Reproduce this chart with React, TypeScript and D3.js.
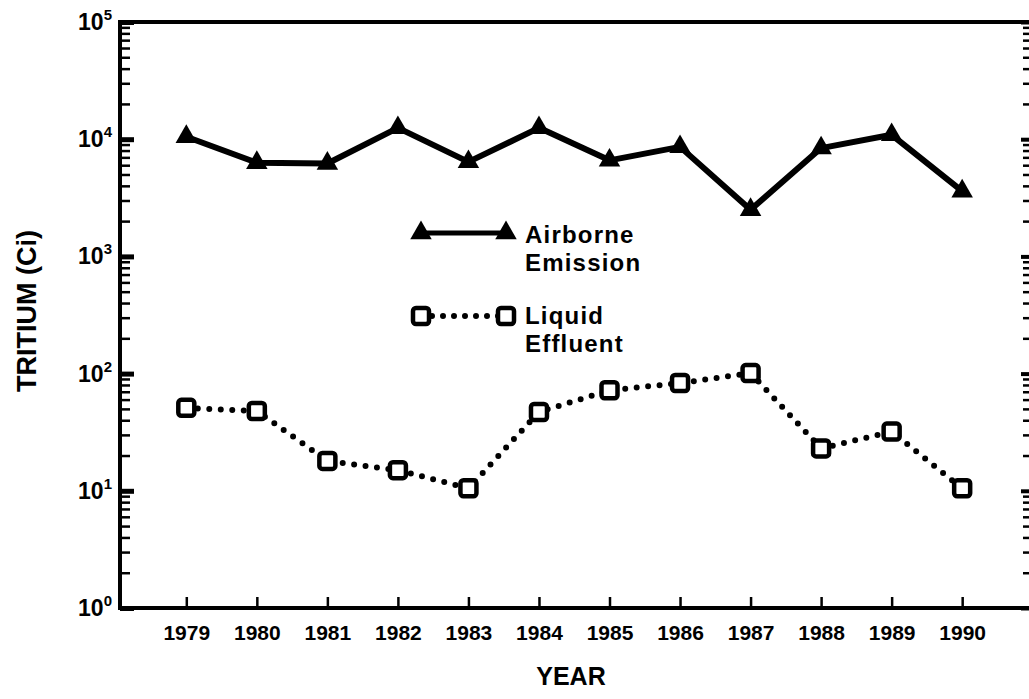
import React from "react";
import * as d3 from "d3";

const W = 1029;
const H = 699;

const years = [1979, 1980, 1981, 1982, 1983, 1984, 1985, 1986, 1987, 1988, 1989, 1990];
const airborne = [10500, 6300, 6200, 12500, 6400, 12500, 6600, 8600, 2500, 8400, 10900, 3600];
const liquid = [51, 48, 18, 15, 10.5, 47, 72, 83, 101, 23, 32, 10.5];
const decades = [1, 10, 100, 1000, 10000, 100000];
const decadeExp = ["0", "1", "2", "3", "4", "5"];
const legendLabels = ["Airborne", "Emission", "Liquid", "Effluent"];

const FONT = "'Liberation Sans', Arial, Helvetica, sans-serif";

const App = () => {
  const svgRef = React.useRef<SVGSVGElement>(null);

  React.useEffect(() => {
    const svg = d3.select(svgRef.current);
    svg.selectAll("*").remove();

    const left = 120, right = 1032, top = 22, bottom = 608;
    const x = d3.scaleLinear().domain([1978.06, 1990.99]).range([left, right]);
    const y = d3.scaleLog().domain([1, 100000]).range([bottom, top]);

    const minors: number[] = [];
    decades.slice(0, -1).forEach((d) => {
      for (let k = 2; k <= 9; k++) minors.push(d * k);
    });

    // frame
    svg
      .append("rect")
      .attr("x", left)
      .attr("y", top)
      .attr("width", right - left)
      .attr("height", bottom - top)
      .attr("fill", "none")
      .attr("stroke", "#000")
      .attr("stroke-width", 4);

    // x axis ticks + labels
    const gx = svg
      .append("g")
      .attr("transform", `translate(0,${bottom})`)
      .call(
        d3
          .axisBottom(x)
          .tickValues(years)
          .tickFormat((d: any) => String(d))
          .tickSizeInner(-11)
          .tickSizeOuter(0)
          .tickPadding(17)
      );
    gx.select(".domain").remove();
    gx.selectAll("line").attr("stroke-width", 2.5);
    gx.selectAll("text")
      .attr("font-family", FONT)
      .attr("font-weight", "bold")
      .attr("font-size", 21)
      .attr("fill", "#000");

    // left axis: major + minor ticks pointing inward
    const gyMaj = svg
      .append("g")
      .attr("transform", `translate(${left},0)`)
      .call(d3.axisLeft(y).tickValues(decades).tickFormat(() => "").tickSizeInner(-14).tickSizeOuter(0));
    gyMaj.select(".domain").remove();
    gyMaj.selectAll("line").attr("stroke-width", 5);

    const gyMin = svg
      .append("g")
      .attr("transform", `translate(${left},0)`)
      .call(d3.axisLeft(y).tickValues(minors).tickFormat(() => "").tickSizeInner(-10).tickSizeOuter(0));
    gyMin.select(".domain").remove();
    gyMin.selectAll("line").attr("stroke-width", 2.5);

    // right axis ticks
    const grMaj = svg
      .append("g")
      .attr("transform", `translate(${right},0)`)
      .call(d3.axisRight(y).tickValues(decades).tickFormat(() => "").tickSizeInner(-11).tickSizeOuter(0));
    grMaj.select(".domain").remove();
    grMaj.selectAll("line").attr("stroke-width", 4);

    const grMin = svg
      .append("g")
      .attr("transform", `translate(${right},0)`)
      .call(d3.axisRight(y).tickValues(minors).tickFormat(() => "").tickSizeInner(-9).tickSizeOuter(0));
    grMin.select(".domain").remove();
    grMin.selectAll("line").attr("stroke-width", 2.5);

    // y labels 10^n
    const lab = svg
      .append("g")
      .attr("font-family", FONT)
      .attr("font-weight", "bold")
      .attr("text-anchor", "end")
      .selectAll("text")
      .data(decades)
      .join("text")
      .attr("x", 112)
      .attr("y", (d: number) => y(d) + 8);
    lab.append("tspan").attr("font-size", 23).text("10");
    lab
      .append("tspan")
      .attr("font-size", 15)
      .attr("dy", -10)
      .text((_: any, i: number) => decadeExp[i]);

    // axis titles
    svg
      .append("text")
      .attr("transform", `translate(36,311) rotate(-90)`)
      .attr("text-anchor", "middle")
      .attr("font-family", FONT)
      .attr("font-weight", "bold")
      .attr("font-size", 27)
      .text("TRITIUM (Ci)");

    svg
      .append("text")
      .attr("x", 571)
      .attr("y", 685)
      .attr("text-anchor", "middle")
      .attr("font-family", FONT)
      .attr("font-weight", "bold")
      .attr("font-size", 25)
      .text("YEAR");

    const tri = d3.symbol(d3.symbolTriangle, 200);

    const line = d3
      .line<number>()
      .x((_, i) => x(years[i]))
      .y((d) => y(d));

    // airborne emission
    svg
      .append("path")
      .datum(airborne)
      .attr("d", line)
      .attr("fill", "none")
      .attr("stroke", "#000")
      .attr("stroke-width", 6)
      .attr("stroke-linejoin", "round");
    svg
      .append("g")
      .selectAll("path")
      .data(airborne)
      .join("path")
      .attr("d", tri)
      .attr("transform", (d: number, i: number) => `translate(${x(years[i])},${y(d)})`)
      .attr("fill", "#000");

    // liquid effluent
    svg
      .append("path")
      .datum(liquid)
      .attr("d", line)
      .attr("fill", "none")
      .attr("stroke", "#000")
      .attr("stroke-width", 6)
      .attr("stroke-linecap", "round")
      .attr("stroke-dasharray", "0 11.5");
    svg
      .append("g")
      .selectAll("rect")
      .data(liquid)
      .join("rect")
      .attr("x", (_: any, i: number) => x(years[i]) - 8)
      .attr("y", (d: number) => y(d) - 8)
      .attr("width", 16)
      .attr("height", 16)
      .attr("rx", 3)
      .attr("fill", "#fff")
      .attr("stroke", "#000")
      .attr("stroke-width", 4.5);

    // legend
    const lg = svg.append("g");
    lg.append("line")
      .attr("x1", 421).attr("x2", 506).attr("y1", 233).attr("y2", 233)
      .attr("stroke", "#000").attr("stroke-width", 5);
    [421, 506].forEach((cx) =>
      lg.append("path").attr("d", tri).attr("transform", `translate(${cx},233)`).attr("fill", "#000")
    );
    lg.append("line")
      .attr("x1", 421).attr("x2", 506).attr("y1", 316).attr("y2", 316)
      .attr("stroke", "#000").attr("stroke-width", 6)
      .attr("stroke-linecap", "round").attr("stroke-dasharray", "0 11");
    [421, 506].forEach((cx) =>
      lg.append("rect")
        .attr("x", cx - 8).attr("y", 308).attr("width", 16).attr("height", 16).attr("rx", 3)
        .attr("fill", "#fff").attr("stroke", "#000").attr("stroke-width", 4.5)
    );
    const legY = [243, 271, 324, 352];
    lg.selectAll("text")
      .data(legendLabels)
      .join("text")
      .attr("x", 525)
      .attr("y", (_: any, i: number) => legY[i])
      .attr("font-family", FONT)
      .attr("font-weight", "bold")
      .attr("font-size", 24)
      .attr("letter-spacing", 1.2)
      .text((d: string) => d);
  }, []);

  return (
    <svg
      ref={svgRef}
      width={W}
      height={H}
      style={{ position: "absolute", left: 0, top: 0, background: "#fff" }}
    />
  );
};

export default App;
